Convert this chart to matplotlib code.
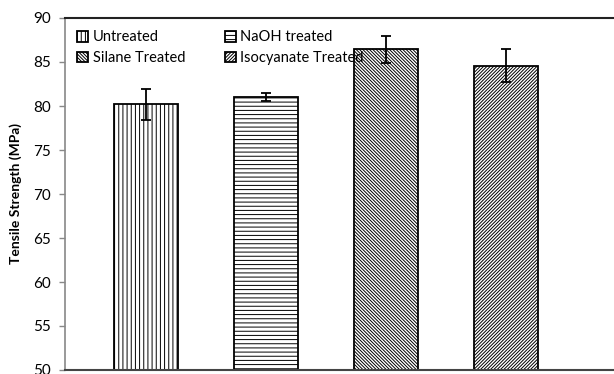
import matplotlib
matplotlib.use("Agg")
import matplotlib.pyplot as plt

categories = ["Untreated", "NaOH treated", "Silane Treated", "Isocyanate Treated"]
values = [80.2, 81.0, 86.45, 84.6]
errors = [1.75, 0.45, 1.55, 1.9]
hatches = ["||||", "----", "\\" * 10, "/" * 10]
yticks = [50, 55, 60, 65, 70, 75, 80, 85, 90]

plt.rcParams["font.family"] = ["Lato", "DejaVu Sans"]
plt.rcParams["hatch.linewidth"] = 0.7
plt.rcParams["hatch.color"] = "#444444"

fig = plt.figure(figsize=(6.14, 3.74), dpi=100)
ax = fig.add_axes([65/614, 4/374, 1.0 - 65/614 + 0.05, (370-18)/374])

x = list(range(len(categories)))
handles = []
for i in x:
    b = ax.bar(i, values[i], width=0.533, bottom=0, color="white",
               edgecolor="black", linewidth=1.3, hatch=hatches[i],
               label=categories[i], zorder=2)
    handles.append(b)
ax.errorbar(x, values, yerr=errors, fmt="none", ecolor="black",
            elinewidth=1.3, capsize=3.5, capthick=1.3, zorder=3)

ax.set_xlim(-0.675, 3.9 + 0.05*614/120)
ax.set_ylim(50, 90)
ax.set_yticks(yticks)
ax.set_xticks([])
ax.tick_params(axis="y", labelsize=11, length=4, width=1, color="#888888", pad=6)
ax.set_ylabel("Tensile Strength (MPa)", fontsize=10, fontweight="bold", labelpad=8)

ax.spines["left"].set_color("#888888")
ax.spines["left"].set_linewidth(1.2)
ax.spines["top"].set_color("#222222")
ax.spines["top"].set_linewidth(1.5)
ax.spines["bottom"].set_color("#444444")
ax.spines["bottom"].set_linewidth(1.5)
ax.spines["right"].set_visible(False)

order = [0, 2, 1, 3]
ax.legend([handles[k] for k in order], [categories[k] for k in order],
          loc="upper left", ncol=2, frameon=False, fontsize=10.5,
          handlelength=0.75, handleheight=0.75, handletextpad=0.3,
          columnspacing=2.7, labelspacing=0.45,
          bbox_to_anchor=(0.0, 1.0), borderaxespad=0.45)

fig.savefig("out.png", dpi=100)
